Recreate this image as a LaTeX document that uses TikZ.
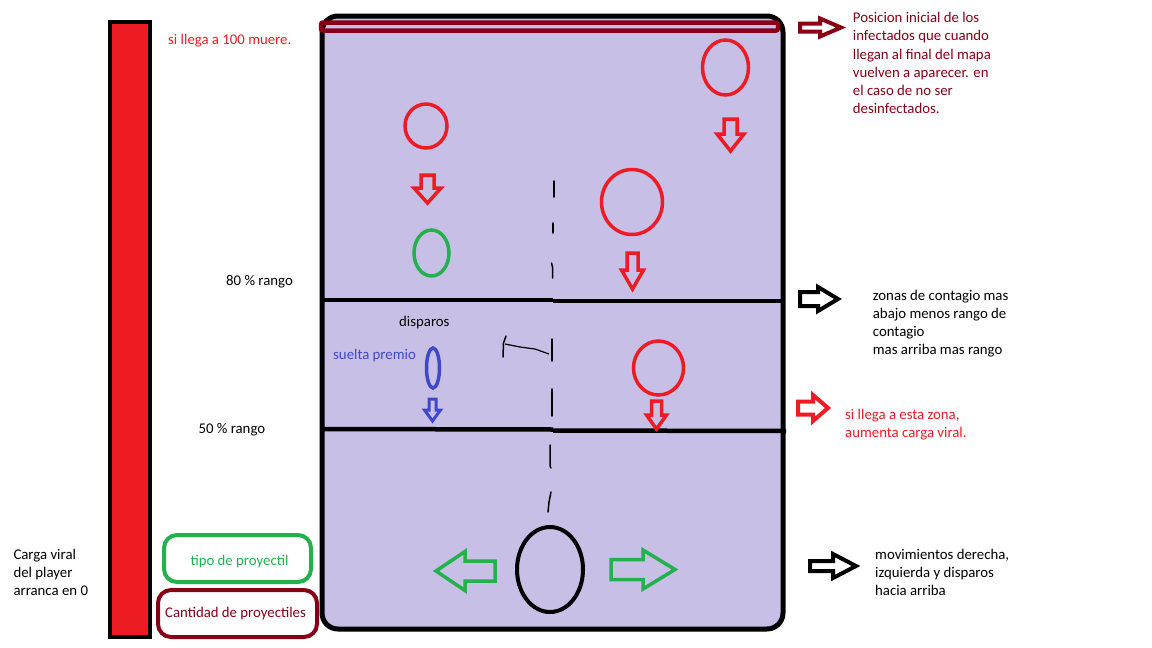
\documentclass[tikz,border=0pt]{standalone}
\usepackage{fontspec}
\setmainfont{Carlito}
\definecolor{ired}{HTML}{ED1C24}
\definecolor{idark}{HTML}{880015}
\definecolor{igreen}{HTML}{22B14C}
\definecolor{iblue}{HTML}{3F48CC}
\definecolor{ilav}{HTML}{C8BFE7}
\newcommand{\blockarr}[8]{\draw[#1,shift={(#2,#3)},rotate=#4,line join=miter] (0,{-#6}) -- ({#5-#8},{-#6}) -- ({#5-#8},{-#7}) -- (#5,0) -- ({#5-#8},#7) -- ({#5-#8},#6) -- (0,#6) -- cycle;}
\tikzset{
  txt/.style={inner sep=0pt, anchor=base west, font=\fontsize{14.8}{18.2}\selectfont},
  ctxt/.style={inner sep=0pt, anchor=base, font=\fontsize{14.8}{18.2}\selectfont},
  heavy/.style={line width=4.5pt},
  hand/.style={line width=1.5pt, line cap=round},
}
\begin{document}
\begin{tikzpicture}[x=1pt,y=-1pt]
\useasboundingbox (0,0) rectangle (1152,648);
\fill[white] (0,0) rectangle (1152,648);
% viral load bar
\draw[line width=4pt, fill=ired] (110,22) rectangle (150,637);
% map
\draw[line width=5pt, fill=ilav, rounded corners=16pt] (322,16) rectangle (783,629);
% spawn line
\draw[line width=4.5pt, idark, rounded corners=2pt] (321,22.5) rectangle (778,30.5);
% zone lines
\draw[heavy] (322,300) -- (553,300);
\draw[heavy] (553,301) -- (783,301);
\draw[heavy] (322,429) -- (553,429.5);
\draw[heavy] (553,430.5) -- (786,431);
% dashed shot path
\draw[hand] (554,181) -- (554,197);
\draw[hand] (553,223) -- (553,233);
\draw[hand] (551.5,263) -- (552.5,267) -- (552.5,278);
\draw[hand] (552,339) -- (552,361);
\draw[hand] (552,389) -- (552,416);
\draw[hand] (550,445) -- (550,466) -- (551,468);
\draw[hand] (551,492) -- (549,502) -- (548,512);
% shot scribble
\draw[line width=1.2pt] (505,344) -- (520,347) -- (535,349) -- (549,354);
\draw[line width=1.5pt, line cap=round] (503,357) -- (503.5,343) -- (506,336);
% infected
\draw[ired, line width=3.5pt] (426,126) ellipse (21 and 22);
\draw[ired, line width=3.5pt] (725.5,67.5) ellipse (23 and 27.5);
\draw[ired, line width=3.5pt] (632,202) ellipse (30.5 and 32.5);
\draw[ired, line width=3.5pt] (658.5,368) ellipse (25 and 27);
\draw[igreen, line width=3.5pt] (431.5,253) ellipse (17.5 and 23);
\draw[iblue, line width=3.5pt] (433,368) ellipse (6.5 and 20);
% player
\draw[line width=4pt] (550,569.5) ellipse (33 and 42.5);
% down arrows
\blockarr{ired, line width=3.5pt}{427.5}{175}{-90}{28}{6.5}{13.5}{15}
\blockarr{ired, line width=3.5pt}{730.5}{119}{-90}{32}{6.5}{13.5}{17}
\blockarr{ired, line width=3.5pt}{632.5}{253}{-90}{36}{5.5}{11}{19}
\blockarr{ired, line width=3.5pt}{656.5}{401}{-90}{28}{5}{10}{14}
\blockarr{iblue, line width=3pt}{432.5}{399}{-90}{22}{3.5}{8}{11}
% movement arrows
\blockarr{igreen, line width=3.5pt}{495}{571}{180}{59}{10}{19.5}{29}
\blockarr{igreen, line width=3.5pt}{611}{569.5}{0}{64}{10}{19.5}{32}
% side arrows
\blockarr{idark, line width=4pt}{800}{27.5}{0}{41}{4}{9}{21}
\blockarr{black, line width=4pt}{800}{299}{0}{38}{7}{12}{20}
\blockarr{ired, line width=4pt}{798}{408}{0}{30}{6.5}{13}{15}
\blockarr{black, line width=4pt}{810}{566}{0}{46}{5}{12}{23}
% HUD boxes
\draw[igreen, line width=4pt, rounded corners=13pt] (164,535) rectangle (311,582);
\draw[idark, line width=4pt, rounded corners=13pt] (158,590) rectangle (317,637);
\node[ctxt, igreen] (tipo) at (239.5,565) {tipo de proyectil};
\node[ctxt, idark] (cant) at (235.5,617.7) {Cantidad de proyectiles};
% texts
\node[txt, ired] (muere) at (168,44) {si llega a 100 muere.};
\node[txt] (r80) at (226,285) {80 \% rango};
\node[txt] (r50) at (198.3,433.3) {50 \% rango};
\node[txt] (disp) at (399,326.7) {disparos};
\node[txt, iblue] (premio) at (333,359.3) {suelta premio};
\node[txt] (c1) at (13.3,559.3) {Carga viral};
\node[txt] (c2) at (13.3,577.3) {del player};
\node[txt] (c3) at (13.3,595.3) {arranca en 0};
\node[txt, idark] (p1) at (852.7,22.7) {Posicion inicial de los};
\node[txt, idark] (p2) at (852.7,40.9) {infectados que cuando};
\node[txt, idark] (p3) at (852.7,59.1) {llegan al final del mapa};
\node[txt, idark] (p4) at (852.7,77.3) {vuelven a aparecer. en};
\node[txt, idark] (p5) at (852.7,95.5) {el caso de no ser};
\node[txt, idark] (p6) at (852.7,113.7) {desinfectados.};
\node[txt] (z1) at (872.7,300) {zonas de contagio mas};
\node[txt] (z2) at (872.7,318) {abajo menos rango de};
\node[txt] (z3) at (872.7,336) {contagio};
\node[txt] (z4) at (872.7,354) {mas arriba mas rango};
\node[txt, ired] (s1) at (845,419.3) {si llega a esta zona,};
\node[txt, ired] (s2) at (845,437.3) {aumenta carga viral.};
\node[txt] (m1) at (875,559.3) {movimientos derecha,};
\node[txt] (m2) at (875,577.3) {izquierda y disparos};
\node[txt] (m3) at (875,595.3) {hacia arriba};
\end{tikzpicture}
\end{document}
